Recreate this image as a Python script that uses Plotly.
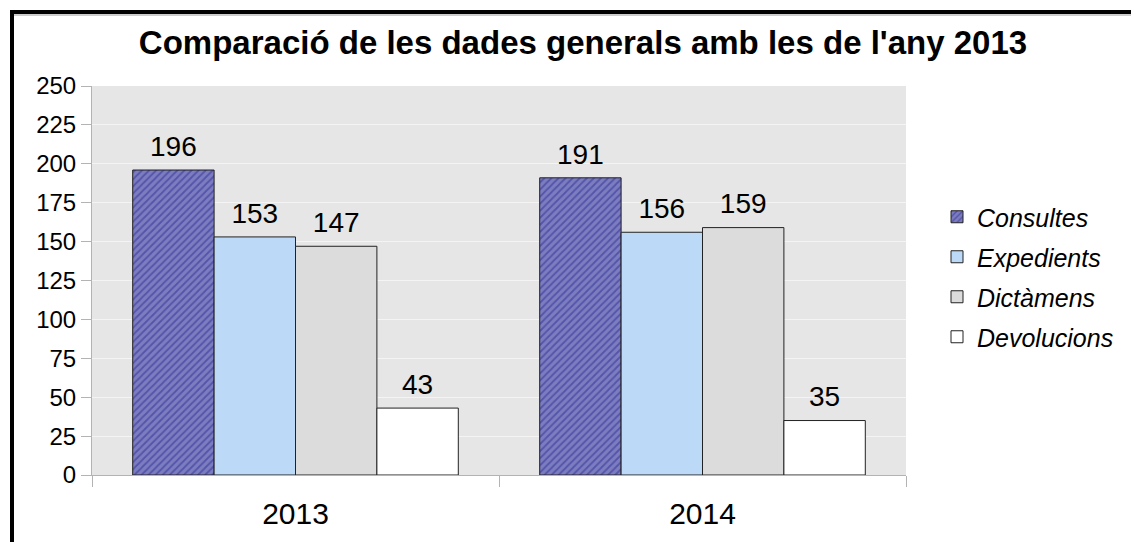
import plotly.graph_objects as go

years = ["2013", "2014"]
series_names = ["Consultes", "Expedients", "Dictàmens", "Devolucions"]
consultes = [196, 191]
expedients = [153, 156]
dictamens = [147, 159]
devolucions = [43, 35]
y_ticks = [0, 25, 50, 75, 100, 125, 150, 175, 200, 225, 250]

values = [consultes, expedients, dictamens, devolucions]
fills = ["#5c5cae", "#bcdaf8", "#dcdcdc", "#ffffff"]
patterns = [
    dict(shape="/", fgcolor="#2a2a92", bgcolor="#7c7cc0", size=5, solidity=0.35),
    dict(shape=""),
    dict(shape=""),
    dict(shape=""),
]

FONT = "Liberation Sans, Arial, sans-serif"

fig = go.Figure()
for i, (name, vals, col, pat) in enumerate(zip(series_names, values, fills, patterns)):
    fig.add_trace(go.Bar(
        name=name, x=years, y=vals, offsetgroup=str(i), legendgroup=name,
        marker=dict(color=col, line=dict(color="#222222", width=1), pattern=pat),
        hoverinfo="x+y+name",
    ))
for i, (name, vals) in enumerate(zip(series_names, values)):
    fig.add_trace(go.Scatter(
        name=name, x=years, y=vals, offsetgroup=str(i), showlegend=False,
        legendgroup=name,
        mode="markers+text", marker=dict(size=10, opacity=0),
        text=[str(v) for v in vals], textposition="top center",
        textfont=dict(size=28, color="#000000", family=FONT),
        cliponaxis=False, hoverinfo="skip",
    ))

# figure pixel frame (page has 8px body margin)
L, R, T, B = 84, 898, 78, 467
W, H = 1131, 534

def px(x):
    return (x - L) / (R - L)

def py(y):
    return (B - y) / (B - T)

shapes = [
    dict(type="line", xref="paper", yref="paper", x0=px(2), x1=px(1140), y0=py(4), y1=py(4),
         line=dict(color="#000000", width=4)),
    dict(type="line", xref="paper", yref="paper", x0=px(4), x1=px(4), y0=py(2), y1=py(560),
         line=dict(color="#000000", width=4)),
    dict(type="line", xref="paper", yref="paper", x0=px(6), x1=px(1140), y0=py(7), y1=py(7),
         line=dict(color="#9a9a9a", width=1)),
]

fig.update_layout(
    width=W, height=H,
    margin=dict(l=L, r=W - R, t=T, b=H - B, autoexpand=False),
    paper_bgcolor="#ffffff", plot_bgcolor="#e6e6e6",
    font=dict(family=FONT, color="#000000"),
    title=dict(text="<b>Comparació de les dades generals amb les de l'any 2013</b>",
               x=575 / W, xref="container", xanchor="center",
               y=1 - 34 / H, yref="container", yanchor="middle",
               font=dict(size=33, family=FONT, color="#000000")),
    barmode="group", bargap=0.2, bargroupgap=0,
    scattermode="group", scattergap=0.2,
    showlegend=True,
    legend=dict(x=px(929), xanchor="left", y=py(269), yanchor="middle",
                font=dict(size=25, family=FONT, color="#000000", style="italic"),
                bgcolor="rgba(0,0,0,0)", traceorder="grouped", tracegroupgap=4.5),
    shapes=shapes,
    xaxis=dict(tickson="boundaries", ticks="outside", ticklen=11, tickcolor="#b3b3b3",
               showline=True, linecolor="#b3b3b3", linewidth=1, showgrid=False,
               ticklabelstandoff=12,
               tickfont=dict(size=30, family=FONT, color="#000000"), fixedrange=True),
    yaxis=dict(range=[0, 250], tickvals=y_ticks, ticks="outside", ticklen=10,
               tickcolor="#b3b3b3", showline=True, linecolor="#b3b3b3", linewidth=1,
               gridcolor="#f4f4f4", gridwidth=1, zeroline=False,
               tickfont=dict(size=24, family=FONT, color="#000000")),
)

fig.write_html("out.html")
